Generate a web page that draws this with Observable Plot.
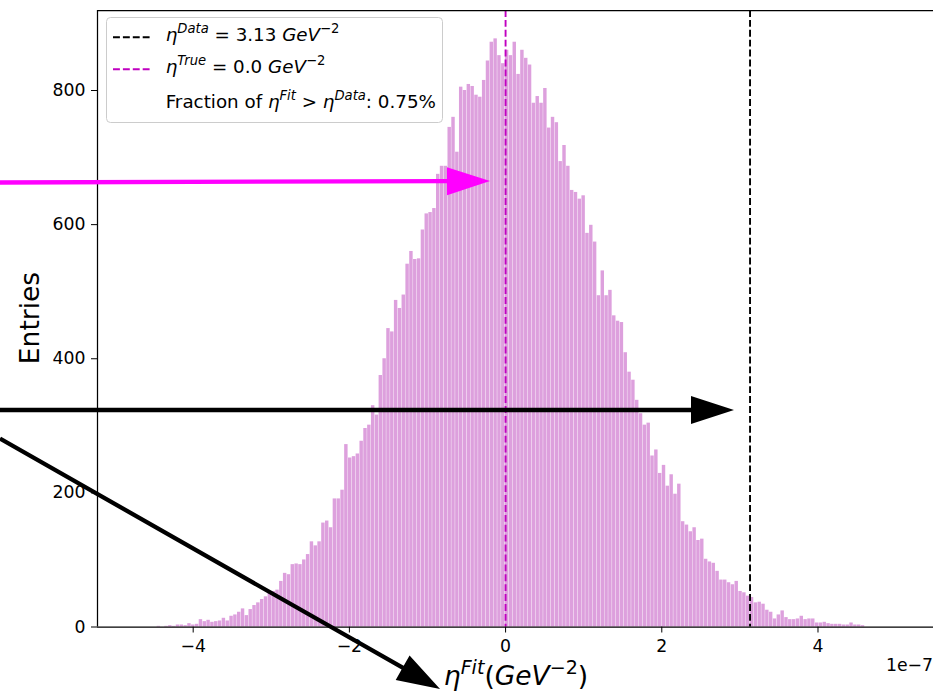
<!DOCTYPE html>
<html><head><meta charset="utf-8">
<script src="https://cdn.jsdelivr.net/npm/d3@7"></script>
<script src="https://cdn.jsdelivr.net/npm/@observablehq/plot@0.6"></script>
<style>html,body{margin:0;padding:0;background:#fff;} #chart{width:933px;height:699px;overflow:hidden}</style>
</head><body><div id="chart"></div>
<script>
// histogram of eta^Fit (units 1e-7 GeV^-2)
const binStart = -4.513;
const binWidth = 0.049;
const counts = [
  0,1,0,1,2,1,3,3,2,5,3,4,
  11,8,10,7,8,9,13,9,16,18,
  22,27,17,26,32,36,41,45,50,53,
  55,68,80,78,93,94,93,100,108,127,
  121,127,155,158,148,191,191,204,272,252,
  254,258,277,296,301,330,316,375,400,445,
  440,487,475,495,541,560,548,549,592,616,
  618,624,675,687,687,745,760,708,805,800,
  809,806,793,790,815,844,872,877,852,840,
  860,852,872,824,860,848,838,781,791,781,
  803,744,760,752,694,718,687,651,648,638,
  643,587,599,574,494,531,494,502,464,456,
  454,409,380,368,338,318,301,304,255,264,
  229,241,210,227,198,213,157,152,142,148,
  129,131,101,97,95,83,70,70,66,63,
  68,53,51,46,44,36,37,34,25,22,
  12,18,24,14,11,11,12,16,11,12,
  12,6,6,7,5,4,4,4,3,3,
  6,3,3,2
];
const xTicks = [-4, -2, 0, 2, 4];
const yTicks = [0, 200, 400, 600, 800];
const xDomain = [-5.225, 5.479];
const yDomain = [0, 919.3];
const etaData = 3.13;
const etaTrue = 0.0;
const fractionAbove = "0.75%";
const offsetText = "1e−7";
const yLabel = "Entries";

// annotation arrows (data units)
const arrowColor = ["#ff00ff", "#000000", "#000000"];
const arrowX1 = [-6.467, -6.467, -6.467];
const arrowY1 = [662.1, 322.8, 280.2];
const arrowX2 = [-0.193, 2.931, -0.833];
const arrowY2 = [664.3, 322.8, -93.2];

const bins = counts.map((c, k) => ({x1: binStart + k * binWidth, x2: binStart + (k + 1) * binWidth, count: c}));
const fmt = d => d < 0 ? "\u2212" + (-d) : String(d);
const dash = "6.9,3";
const magenta = "#c000c0";

const plot = Plot.plot({
  width: 933, height: 699,
  marginLeft: 97, marginRight: 0, marginTop: 10, marginBottom: 72.5,
  style: {fontFamily: "'DejaVu Sans', sans-serif", fontSize: "17.3px", color: "#000", background: "#fff", overflow: "visible"},
  x: {domain: xDomain, ticks: xTicks, tickFormat: fmt, tickSize: 6, tickPadding: 7, label: null},
  y: {domain: yDomain, ticks: yTicks, tickFormat: fmt, tickSize: 6, tickPadding: 6, label: null},
  marks: [
    Plot.rectY(bins, {x1: "x1", x2: "x2", y: "count", fill: "#dda0dd", insetLeft: 0.2, insetRight: 0.2}),
    Plot.ruleX([etaData], {stroke: "#000", strokeWidth: 1.9, strokeDasharray: dash}),
    Plot.ruleX([etaTrue], {stroke: magenta, strokeWidth: 1.9, strokeDasharray: dash}),
    Plot.ruleX([xDomain[0]], {stroke: "#000", strokeWidth: 1.25}),
    Plot.ruleY([yDomain[0], yDomain[1]], {stroke: "#000", strokeWidth: 1.25})
  ]
});
document.getElementById("chart").appendChild(plot);

const sx = plot.scale("x"), sy = plot.scale("y");
const svg = d3.select(plot);

// legend
const lg = svg.append("g");
lg.append("rect").attr("x", 106.5).attr("y", 17.5).attr("width", 336).attr("height", 105)
  .attr("rx", 4).attr("fill", "#fff").attr("fill-opacity", 0.8).attr("stroke", "#cccccc");
lg.append("line").attr("x1", 113).attr("x2", 150).attr("y1", 37.3).attr("y2", 37.3)
  .attr("stroke", "#000").attr("stroke-width", 1.9).attr("stroke-dasharray", dash);
lg.append("line").attr("x1", 113).attr("x2", 150).attr("y1", 69.3).attr("y2", 69.3)
  .attr("stroke", magenta).attr("stroke-width", 1.9).attr("stroke-dasharray", dash);

function richText(parent, x, y, parts, size, anchor) {
  const t = parent.append("text").attr("x", x).attr("y", y).attr("font-size", size)
    .attr("text-anchor", anchor || "start").style("white-space", "pre").attr("fill", "#000");
  let raised = false;
  const sh = Math.round(size * 0.42);
  for (const p of parts) {
    const ts = t.append("tspan").text(p.t);
    if (p.i) ts.attr("font-style", "italic");
    if (p.sup && !raised) { ts.attr("dy", -sh).attr("font-size", size * 0.72); raised = true; }
    else if (p.sup) { ts.attr("font-size", size * 0.72); }
    else if (raised) { ts.attr("dy", sh); raised = false; }
  }
  return t;
}
const lf = 18.3;
richText(lg, 165.7, 40.7, [{t: "η", i: 1}, {t: "Data", i: 1, sup: 1}, {t: " = " + etaData.toFixed(2) + " "}, {t: "GeV", i: 1}, {t: "−2", sup: 1}], lf);
richText(lg, 165.7, 72.7, [{t: "η", i: 1}, {t: "True", i: 1, sup: 1}, {t: " = " + etaTrue.toFixed(1) + " "}, {t: "GeV", i: 1}, {t: "−2", sup: 1}], lf);
richText(lg, 165.7, 108.3, [{t: "Fraction of "}, {t: "η", i: 1}, {t: "Fit", i: 1, sup: 1}, {t: " > "}, {t: "η", i: 1}, {t: "Data", i: 1, sup: 1}, {t: ": " + fractionAbove}], lf);

// axis labels
richText(svg, 516, 685, [{t: "η", i: 1}, {t: "Fit", i: 1, sup: 1}, {t: "("}, {t: "GeV", i: 1}, {t: "−2", sup: 1}, {t: ")"}], 26.5, "middle");
svg.append("text").attr("transform", "translate(39,318) rotate(-90)").attr("text-anchor", "middle")
  .attr("font-size", 26.5).attr("fill", "#000").text(yLabel);
svg.append("text").attr("x", 933).attr("y", 671).attr("text-anchor", "end").attr("font-size", 17.3)
  .attr("fill", "#000").text(offsetText);

// arrows
function arrowPath(x1, y1, x2, y2, shaftW, headL, headW) {
  const dx = x2 - x1, dy = y2 - y1, L = Math.hypot(dx, dy), ux = dx / L, uy = dy / L, nx = -uy, ny = ux;
  const bx = x2 - ux * headL, by = y2 - uy * headL;
  const pts = [
    [x1 + nx * shaftW / 2, y1 + ny * shaftW / 2],
    [bx + nx * shaftW / 2, by + ny * shaftW / 2],
    [bx + nx * headW / 2, by + ny * headW / 2],
    [x2, y2],
    [bx - nx * headW / 2, by - ny * headW / 2],
    [bx - nx * shaftW / 2, by - ny * shaftW / 2],
    [x1 - nx * shaftW / 2, y1 - ny * shaftW / 2]];
  return "M" + pts.map(p => p[0].toFixed(2) + "," + p[1].toFixed(2)).join("L") + "Z";
}
arrowColor.forEach((c, i) => {
  svg.append("path")
    .attr("d", arrowPath(sx.apply(arrowX1[i]), sy.apply(arrowY1[i]), sx.apply(arrowX2[i]), sy.apply(arrowY2[i]), 4.3, 43, 28))
    .attr("fill", c);
});
</script>
</body></html>
